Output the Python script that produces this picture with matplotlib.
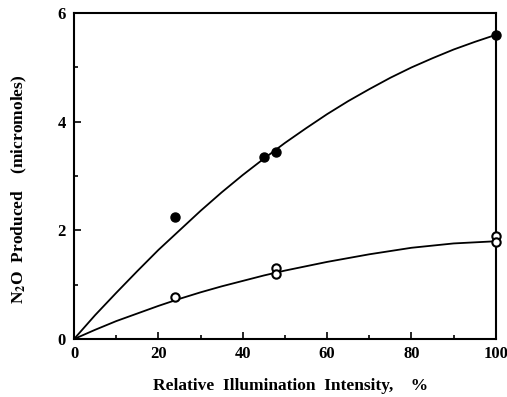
import matplotlib
matplotlib.use("Agg")
import matplotlib.pyplot as plt
from matplotlib.ticker import MultipleLocator

plt.rcParams['font.family'] = 'Liberation Serif'
plt.rcParams['mathtext.fontset'] = 'stix'

# measured points
filled_x = [24, 45, 48, 100]
filled_y = [2.25, 3.35, 3.45, 5.6]
open_x = [24, 48, 48, 100, 100]
open_y = [0.77, 1.30, 1.20, 1.90, 1.78]

# fitted curves
curve_x = [0, 5, 10, 15, 20, 25, 30, 35, 40, 45, 50,
           55, 60, 65, 70, 75, 80, 85, 90, 95, 100]
upper_y = [0, 0.44, 0.85, 1.25, 1.64, 2.00, 2.36, 2.70, 3.02, 3.32, 3.61,
           3.88, 4.14, 4.38, 4.60, 4.81, 5.00, 5.17, 5.33, 5.47, 5.60]
lower_y = [0, 0.17, 0.33, 0.47, 0.61, 0.74, 0.86, 0.97, 1.07, 1.17, 1.26,
           1.34, 1.42, 1.49, 1.56, 1.62, 1.68, 1.72, 1.76, 1.78, 1.80]

fig = plt.figure(figsize=(5.07, 3.97), dpi=100)
ax = fig.add_axes([0.146, 0.146, 0.832, 0.821])

ax.plot(curve_x, upper_y, color='black', lw=1.3)
ax.plot(curve_x, lower_y, color='black', lw=1.3)
ax.plot(filled_x, filled_y, 'o', color='black', ms=6.5, clip_on=False, zorder=3)
ax.plot(open_x, open_y, 'o', mfc='white', mec='black', mew=1.5, ms=6,
        clip_on=False, zorder=3)

ax.set_xlim(0, 100)
ax.set_ylim(0, 6)
ax.xaxis.set_major_locator(MultipleLocator(20))
ax.xaxis.set_minor_locator(MultipleLocator(10))
ax.yaxis.set_major_locator(MultipleLocator(2))
ax.yaxis.set_minor_locator(MultipleLocator(1))
ax.tick_params(which='both', direction='in', top=False, right=False,
               labelsize=12, width=1.2)
ax.tick_params(which='major', length=5)
ax.tick_params(which='minor', length=3)
ax.tick_params(axis='y', pad=6)
ax.tick_params(axis='x', pad=5)
for lab in ax.get_xticklabels() + ax.get_yticklabels():
    lab.set_fontweight('bold')
for s in ax.spines.values():
    s.set_linewidth(1.5)

ax.set_xlabel('Relative  Illumination  Intensity,    %', fontsize=12.5,
              fontweight='bold')
ax.set_ylabel(r'N$_\mathbf{2}$O  Produced    (micromoles)', fontsize=12.5,
              fontweight='bold')
ax.xaxis.set_label_coords(0.514, -0.12)
ax.yaxis.set_label_coords(-0.107, 0.46)

fig.savefig('out.png', dpi=100)
